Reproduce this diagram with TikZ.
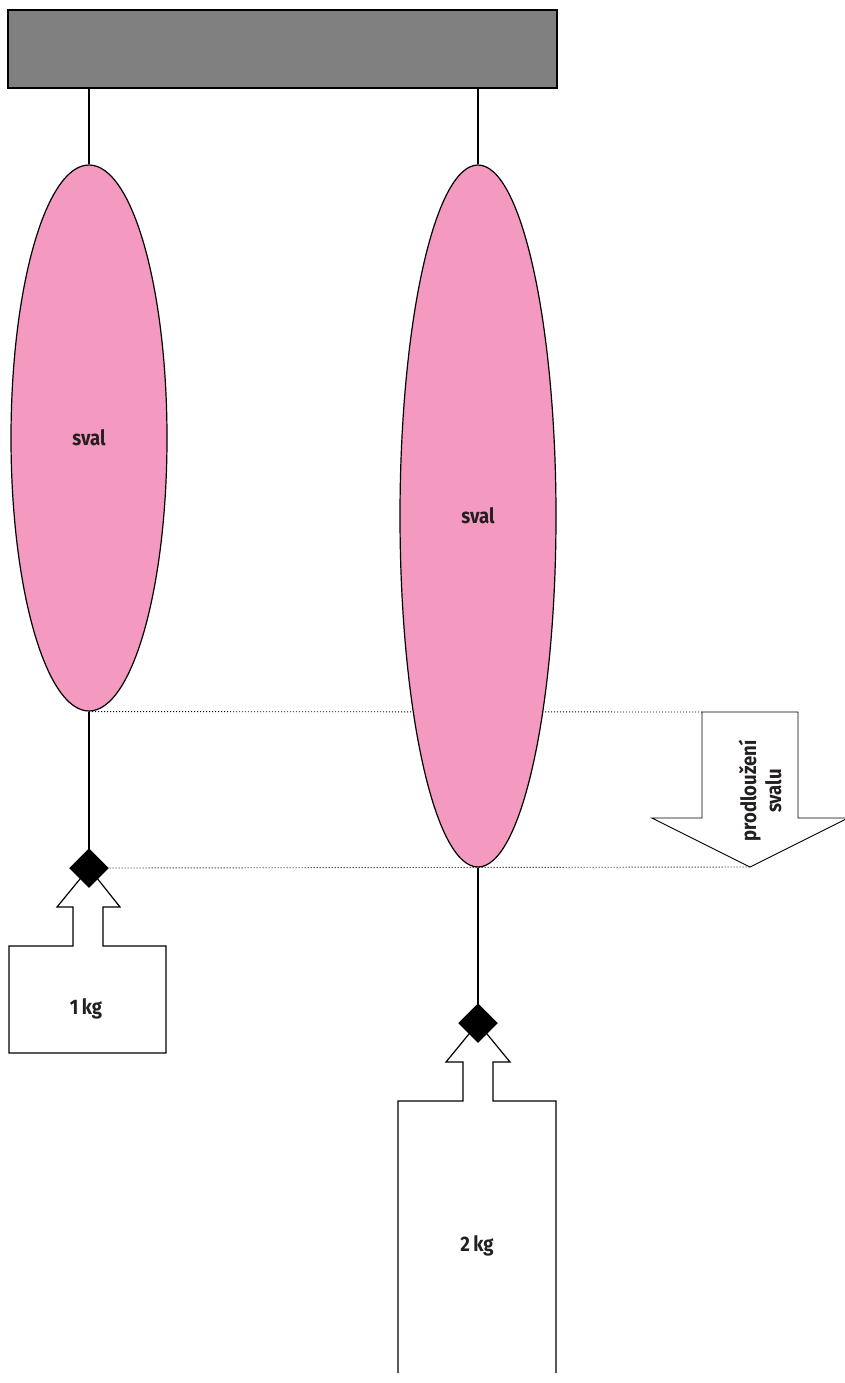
\documentclass[tikz,border=0pt]{standalone}
\usepackage{fontspec}
\usetikzlibrary{shapes.geometric,backgrounds}
\newfontfamily\lblfont{Fira Sans}[FakeStretch=0.88]
\definecolor{barGray}{RGB}{128,128,128}
\definecolor{musPink}{RGB}{244,154,193}
\definecolor{txtDark}{RGB}{35,31,32}

\begin{document}
\begin{tikzpicture}[x=1pt,y=-1pt,line width=1.2pt,
  lbl/.style={font=\lblfont\bfseries\fontsize{21}{25}\selectfont,text=txtDark},
  muscle/.style={ellipse,draw,fill=musPink,inner sep=0pt,minimum width=156pt,lbl},
  hook/.style={diamond,fill=black,inner sep=0pt,minimum size=40pt},
  level/.style={line width=0.9pt,dash pattern=on 1pt off 2pt}]
\useasboundingbox (0,0) rectangle (845,1383);
\node[draw,fill=barGray,minimum width=549pt,minimum height=78pt] (bar) at (282.5,49) {};
\node[muscle,minimum height=546pt] (musA) at (89,438) {sval};
\node[muscle,minimum height=702pt] (musB) at (478,516) {sval};
\coordinate (tipA) at (89,868);
\coordinate (tipB) at (478,1023);
\coordinate (extTop) at (702,712);
\coordinate (extTip) at (750,867);

\draw (bar.south -| musA) -- (musA.north);
\draw (bar.south -| musB) -- (musB.north);
\draw (musA.south) -- (tipA);
\draw (musB.south) -- (tipB);

\draw[fill=white] (tipA) -- (120,907) -- (103,907) -- (103,946) -- (166,946) -- (166,1053)
  -- (9,1053) -- (9,946) -- (73,946) -- (73,907) -- (57,907) -- cycle;
\draw[fill=white] (398,1373) -- (398,1101) -- (463,1101) -- (463,1062) -- (446,1062) -- (tipB)
  -- (510,1062) -- (493,1062) -- (493,1101) -- (556,1101) -- (556,1373);
\draw[fill=white,line width=0.9pt] (extTop) -- (798,712) -- (798,818) -- (848,818) -- (extTip)
  -- (652,818) -- (702,818) -- cycle;

\node[hook] (hookA) at (tipA) {};
\node[hook] (hookB) at (tipB) {};
\node[lbl] (kgA) at (86,1009) {1\,kg};
\node[lbl] (kgB) at (477,1246) {2\,kg};
\node[lbl,rotate=90,align=center] (ext) at (760,791) {prodloužení\\svalu};

\begin{scope}[on background layer]
\draw[level] (musA.south) -- (extTop);
\draw[level] (hookA.east) -- (extTip);
\end{scope}
\end{tikzpicture}
\end{document}
